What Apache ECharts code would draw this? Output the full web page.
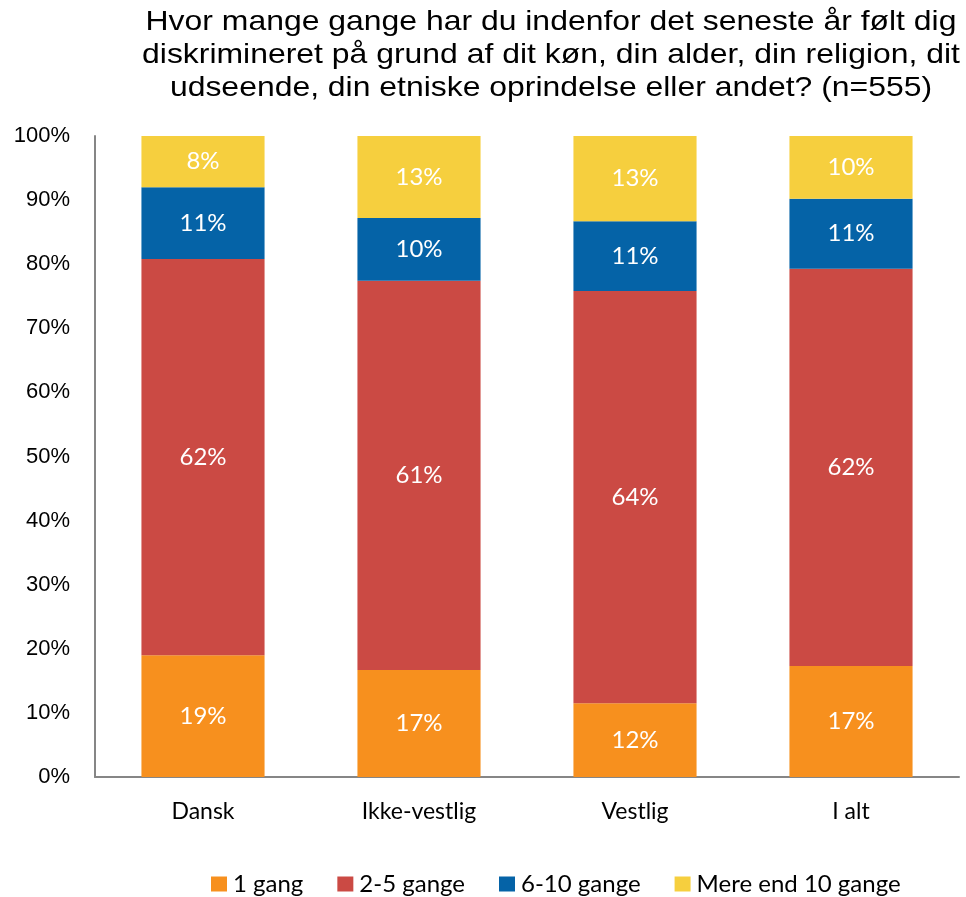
<!DOCTYPE html>
<html><head><meta charset="utf-8">
<script src="https://cdn.jsdelivr.net/npm/echarts@6/dist/echarts.min.js"></script>
<style>html,body{margin:0;padding:0;background:#fff}#c{width:966px;height:897px}</style>
</head><body><div id="c"></div>
<script>
const categories = ['Dansk', 'Ikke-vestlig', 'Vestlig', 'I alt'];
const seriesNames = ['1 gang', '2-5 gange', '6-10 gange', 'Mere end 10 gange'];
const oneTime = [19.0, 16.7, 11.5, 17.3];
const twoToFive = [61.8, 60.7, 64.3, 62.0];
const sixToTen = [11.2, 9.8, 10.9, 10.9];
const moreThanTen = [8.0, 12.8, 13.3, 9.8];
const yTicks = [0, 10, 20, 30, 40, 50, 60, 70, 80, 90, 100];
const titleLines = [
  'Hvor mange gange har du indenfor det seneste år følt dig',
  'diskrimineret på grund af dit køn, din alder, din religion, dit',
  'udseende, din etniske oprindelse eller andet? (n=555)'
];
const colors = ['#F7901E', '#CB4A44', '#0563A7', '#F6CF3E'];
const values = [oneTime, twoToFive, sixToTen, moreThanTen];

const chart = echarts.init(document.getElementById('c'));
const labelFont = 'Lato, "Open Sans", sans-serif';
chart.setOption({
  animation: false,
  graphic: titleLines.map((t, i) => ({
    type: 'text', x: 551, y: 22 + i * 33, scaleX: 1.14,
    style: {
      text: t, align: 'center', verticalAlign: 'middle',
      font: 'normal 28px "Liberation Sans", Arial, sans-serif',
      fill: '#000'
    }
  })),
  legend: {
    left: 206, top: 867,
    itemWidth: 16, itemHeight: 15, itemGap: 34,
    icon: 'rect',
    textStyle: { fontFamily: labelFont, fontSize: 24, color: '#000', padding: [0, 0, 0, 1] },
    data: seriesNames
  },
  grid: { left: 95, right: 7, top: 136, bottom: 120, containLabel: false },
  xAxis: {
    type: 'category', data: categories,
    axisLine: { lineStyle: { color: '#868686', width: 2 } },
    axisTick: { show: false },
    axisLabel: { fontFamily: labelFont, fontSize: 23, color: '#000', margin: 23 }
  },
  yAxis: {
    type: 'value', min: 0, max: 100, interval: 10,
    axisLine: { show: true, lineStyle: { color: '#868686', width: 2 } },
    axisTick: { show: false },
    splitLine: { show: false },
    axisLabel: { fontFamily: '"Liberation Sans", Arial, sans-serif', fontSize: 22, color: '#000', margin: 25,
      formatter: v => yTicks.includes(v) ? v + '%' : '' }
  },
  series: seriesNames.map((n, i) => ({
    name: n, type: 'bar', stack: 'total', barWidth: '57%',
    data: values[i],
    itemStyle: { color: colors[i] },
    label: { show: true, position: 'inside', color: '#fff', fontFamily: labelFont, fontSize: 24,
      formatter: p => Math.round(p.value) + '%' }
  }))
});
</script></body></html>
